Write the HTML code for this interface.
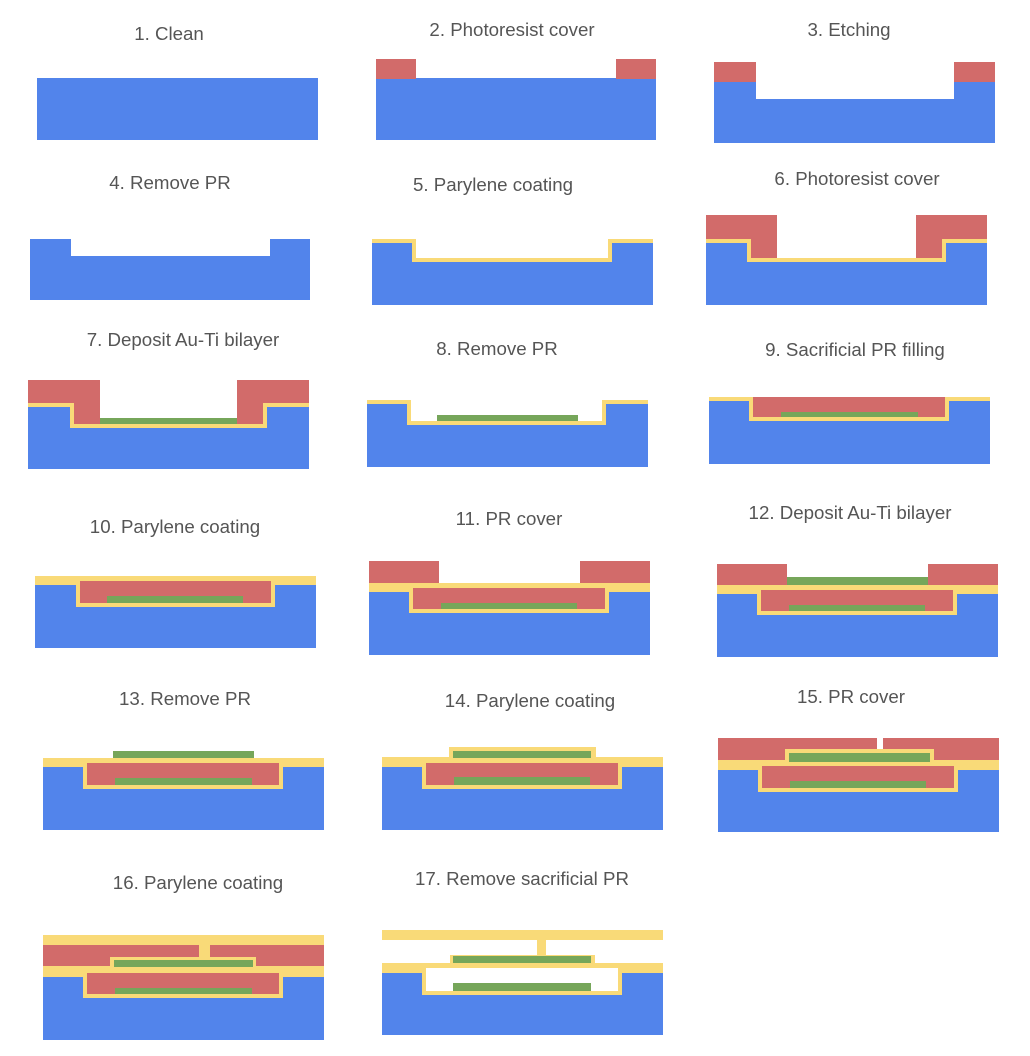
<!DOCTYPE html>
<html><head><meta charset="utf-8"><style>
html,body{margin:0;padding:0;background:#fff;}
svg{display:block}
text{font-family:"Liberation Sans",sans-serif;font-size:18.7px;fill:#555;text-anchor:middle;dominant-baseline:middle}
.b{fill:#5284EB}.r{fill:#D26B6A}.y{fill:#F9DA78}.g{fill:#76A65A}.w{fill:#fff}
</style></head><body>
<svg width="1030" height="1056" viewBox="0 0 1030 1056" xmlns="http://www.w3.org/2000/svg">
<text x="169" y="35">1. Clean</text>
<rect class="b" x="37" y="78" width="281" height="62"/>
<text x="512" y="31">2. Photoresist cover</text>
<rect class="b" x="376" y="78" width="280" height="62"/>
<rect class="r" x="376" y="59" width="40" height="20"/>
<rect class="r" x="616" y="59" width="40" height="20"/>
<text x="849" y="31">3. Etching</text>
<path class="b" d="M714 82H756V99H954V82H995V143H714Z"/>
<rect class="r" x="714" y="62" width="42" height="20"/>
<rect class="r" x="954" y="62" width="41" height="20"/>
<text x="170" y="184">4. Remove PR</text>
<path class="b" d="M30 239H71V256H270V239H310V300H30Z"/>
<text x="493" y="186">5. Parylene coating</text>
<path class="y" d="M372 239H416V258H608V239H653V305H372Z"/>
<path class="b" d="M372 243H412V262H612V243H653V305H372Z"/>
<text x="857" y="180">6. Photoresist cover</text>
<path class="y" d="M706 239H751V258H942V239H987V305H706Z"/>
<path class="b" d="M706 243H747V262H946V243H987V305H706Z"/>
<path class="r" d="M706 215H777V258H751V239H706Z"/>
<path class="r" d="M916 215H987V239H942V258H916Z"/>
<text x="183" y="341">7. Deposit Au-Ti bilayer</text>
<path class="y" d="M28 403H74V424H263V403H309V469H28Z"/>
<path class="b" d="M28 407H70V428H267V407H309V469H28Z"/>
<path class="r" d="M28 380H100V424H74V403H28Z"/>
<path class="r" d="M237 380H309V403H263V424H237Z"/>
<rect class="g" x="100" y="418" width="137" height="6"/>
<text x="497" y="350">8. Remove PR</text>
<path class="y" d="M367 400H411V421H602V400H648V467H367Z"/>
<path class="b" d="M367 404H407V425H606V404H648V467H367Z"/>
<rect class="g" x="437" y="415" width="141" height="6"/>
<text x="855" y="351">9. Sacrificial PR filling</text>
<path class="y" d="M709 397H990V464H709Z"/>
<path class="b" d="M709 401H749V421H949V401H990V464H709Z"/>
<rect class="r" x="753" y="397" width="192" height="20"/>
<rect class="g" x="781" y="412" width="137" height="5"/>
<text x="175" y="528">10. Parylene coating</text>
<rect class="y" x="35" y="576" width="281" height="72"/>
<path class="b" d="M35 585H76V607H275V585H316V648H35Z"/>
<rect class="r" x="80" y="581" width="191" height="22"/>
<rect class="g" x="107" y="596" width="136" height="7"/>
<text x="509" y="520">11. PR cover</text>
<rect class="y" x="369" y="583" width="281" height="72"/>
<path class="b" d="M369 592H409V613H609V592H650V655H369Z"/>
<rect class="r" x="413" y="588" width="192" height="21"/>
<rect class="g" x="441" y="603" width="136" height="6"/>
<rect class="r" x="369" y="561" width="70" height="22"/>
<rect class="r" x="580" y="561" width="70" height="22"/>
<text x="850" y="514">12. Deposit Au-Ti bilayer</text>
<rect class="y" x="717" y="585" width="281" height="72"/>
<path class="b" d="M717 594H757V615H957V594H998V657H717Z"/>
<rect class="r" x="761" y="590" width="192" height="21"/>
<rect class="g" x="789" y="605" width="136" height="6"/>
<rect class="r" x="717" y="564" width="70" height="21"/>
<rect class="r" x="928" y="564" width="70" height="21"/>
<rect class="g" x="787" y="577" width="141" height="8"/>
<text x="185" y="700">13. Remove PR</text>
<rect class="y" x="43" y="758" width="281" height="72"/>
<path class="b" d="M43 767H83V789H283V767H324V830H43Z"/>
<rect class="r" x="87" y="763" width="192" height="22"/>
<rect class="g" x="115" y="778" width="137" height="7"/>
<rect class="g" x="113" y="751" width="141" height="7"/>
<text x="530" y="702">14. Parylene coating</text>
<rect class="y" x="382" y="757" width="281" height="73"/>
<rect class="y" x="449" y="747" width="147" height="12"/>
<path class="b" d="M382 767H422V789H622V767H663V830H382Z"/>
<rect class="r" x="426" y="763" width="192" height="22"/>
<rect class="g" x="454" y="777" width="136" height="8"/>
<rect class="g" x="453" y="751" width="138" height="7"/>
<text x="851" y="698">15. PR cover</text>
<rect class="y" x="718" y="760" width="281" height="72"/>
<path class="b" d="M718 770H758V792H958V770H999V832H718Z"/>
<rect class="r" x="762" y="766" width="192" height="22"/>
<rect class="g" x="790" y="781" width="136" height="7"/>
<rect class="r" x="718" y="738" width="159" height="22"/>
<rect class="r" x="883" y="738" width="116" height="22"/>
<rect class="y" x="785" y="749" width="149" height="16"/>
<rect class="g" x="789" y="753" width="141" height="9"/>
<text x="198" y="884">16. Parylene coating</text>
<rect class="y" x="43" y="935" width="281" height="105"/>
<rect class="r" x="43" y="945" width="156" height="21"/>
<rect class="r" x="210" y="945" width="114" height="21"/>
<rect class="y" x="110" y="957" width="146" height="11"/>
<rect class="g" x="114" y="960" width="139" height="7"/>
<path class="b" d="M43 977H83V998H283V977H324V1040H43Z"/>
<rect class="r" x="87" y="973" width="192" height="21"/>
<rect class="g" x="115" y="988" width="137" height="6"/>
<text x="522" y="880">17. Remove sacrificial PR</text>
<rect class="y" x="382" y="930" width="281" height="10"/>
<rect class="y" x="537" y="940" width="9" height="16"/>
<rect class="y" x="382" y="963" width="281" height="72"/>
<rect class="y" x="450" y="955" width="145" height="10"/>
<rect class="g" x="453" y="956" width="138" height="7"/>
<path class="b" d="M382 973H422V995H622V973H663V1035H382Z"/>
<rect class="w" x="426" y="968" width="192" height="23"/>
<rect class="g" x="453" y="983" width="138" height="8"/>
</svg>
</body></html>
